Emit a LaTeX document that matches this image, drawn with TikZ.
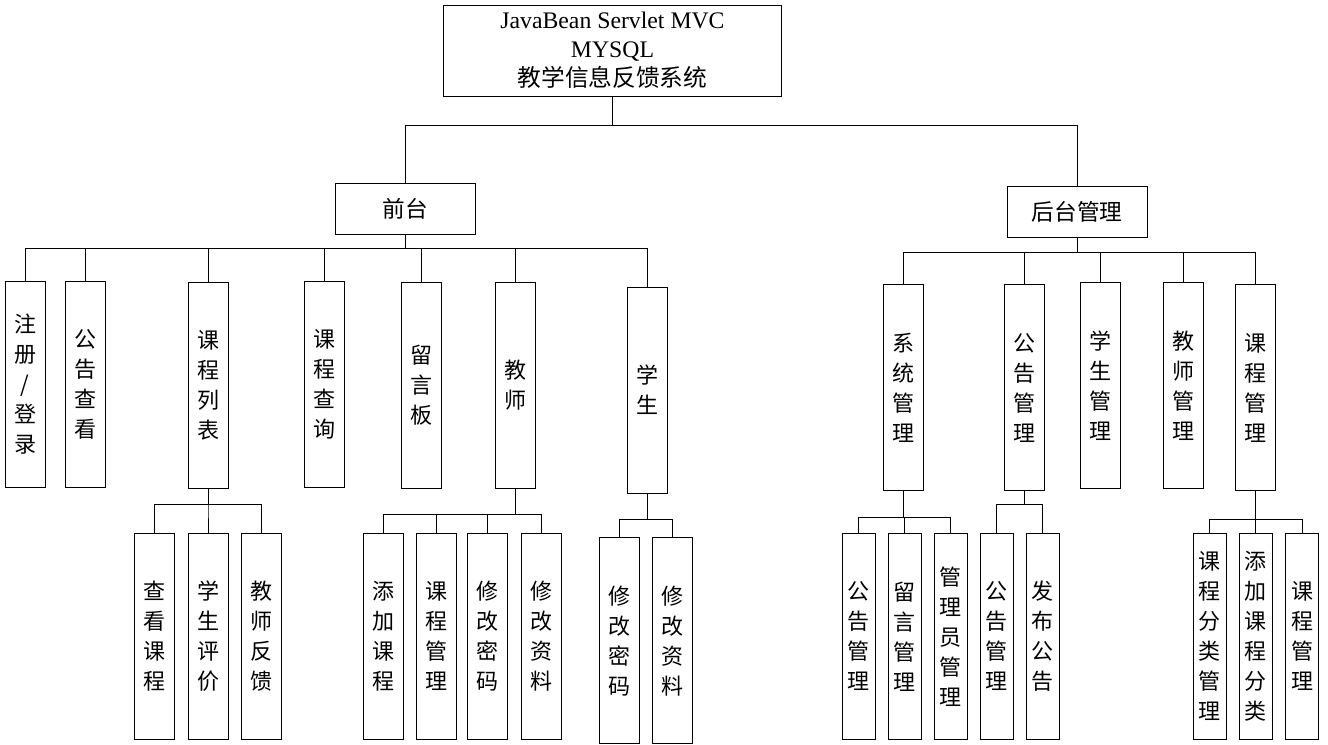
\documentclass[tikz,border=0pt]{standalone}
\usepackage{fontspec}
\setmainfont{Liberation Serif}
\newfontfamily\cjk{Noto Sans CJK SC}
\usetikzlibrary{positioning}

\begin{document}
\begin{tikzpicture}[x=0.75pt, y=-0.75pt, line width=0.7pt,
    box/.style={draw, inner sep=0pt, align=center, minimum width=30pt, minimum height=154.5pt,
      font=\cjk\fontsize{16.5}{22.5}\selectfont},
    slim/.style={box, minimum width=24.75pt},
    head/.style={draw, inner sep=0pt, align=center, minimum width=105pt, minimum height=38.25pt,
      font=\cjk\fontsize{17}{21}\selectfont}]
  \useasboundingbox (0,0) rectangle (1328,745);

  % top
  \node[draw, inner sep=0pt, align=center, minimum width=254pt, minimum height=68.25pt,
    font=\fontsize{17.8}{21.75}\selectfont] (root) at (612.5,50.5)
    {JavaBean Servlet MVC\\MYSQL\\{\cjk 教学信息反馈系统}};
  \node[head] (front) at (405,208.5) {前台};
  \node[head] (back) at (1077,211.5) {后台管理};

  % front end
  \node[box] (reg)     at (25,384)    {注\\册\\/\\登\\录};
  \node[box] (notice)  at (85,384)    {公\\告\\查\\看};
  \node[box] (clist)   at (208,385.5) {课\\程\\列\\表};
  \node[box] (cquery)  at (324,384)   {课\\程\\查\\询};
  \node[box] (board)   at (421,385.3) {留\\言\\板};
  \node[box] (teacher) at (515.5,385.5) {教\\师};
  \node[box] (student) at (647.3,390) {学\\生};

  \node[box] (cview)  at (154.7,636.3) {查\\看\\课\\程};
  \node[box] (sgrade) at (208,636.3)   {学\\生\\评\\价};
  \node[box] (tfeed)  at (261.3,636.3) {教\\师\\反\\馈};

  \node[box] (tadd)  at (383.3,636.2) {添\\加\\课\\程};
  \node[box] (tman)  at (436.7,636.2) {课\\程\\管\\理};
  \node[box] (tpwd)  at (487.7,636.2) {修\\改\\密\\码};
  \node[box] (tinfo) at (541,636.2)   {修\\改\\资\\料};

  \node[box] (spwd)  at (619.7,640.9) {修\\改\\密\\码};
  \node[box] (sinfo) at (672.9,640.9) {修\\改\\资\\料};

  % back end
  \node[box] (sys)    at (903.8,387.8)  {系\\统\\管\\理};
  \node[box] (notman) at (1024.8,387.8) {公\\告\\管\\理};
  \node[box] (stuman) at (1100.3,385.8) {学\\生\\管\\理};
  \node[box] (teaman) at (1183.8,385.8) {教\\师\\管\\理};
  \node[box] (couman) at (1255.5,387.8) {课\\程\\管\\理};

  \node[slim] (sysnot)   at (858.7,636.3) {公\\告\\管\\理};
  \node[slim] (sysmsg)   at (904.8,636.3) {留\\言\\管\\理};
  \node[slim] (sysadmin) at (950.8,636.3) {管\\理\\员\\管\\理};

  \node[slim] (notlist) at (996.8,636.3)  {公\\告\\管\\理};
  \node[slim] (notpub)  at (1042.8,636.3) {发\\布\\公\\告};

  \node[slim] (catman) at (1209.8,636.3) {课\\程\\分\\类\\管\\理};
  \node[slim] (catadd) at (1255.8,636.3) {添\\加\\课\\程\\分\\类};
  \node[slim] (cman)   at (1302.2,636.3) {课\\程\\管\\理};

  % connectors
  \coordinate (b0) at (0,125);
  \coordinate (b1) at (0,248);
  \coordinate (b2) at (0,252);
  \coordinate (b3) at (0,504);
  \coordinate (b4) at (0,514);
  \coordinate (b5) at (0,519);
  \coordinate (b6) at (0,517);
  \coordinate (b7) at (0,504);
  \coordinate (b8) at (0,519);

  \foreach \c in {front,back}
    \draw (root.south) -- (root.south |- b0) -| (\c.north);
  \foreach \c in {reg,notice,clist,cquery,board,teacher,student}
    \draw (front.south) -- (front.south |- b1) -| (\c.north);
  \foreach \c in {sys,notman,stuman,teaman,couman}
    \draw (back.south) -- (back.south |- b2) -| (\c.north);
  \foreach \c in {cview,sgrade,tfeed}
    \draw (clist.south) -- (clist.south |- b3) -| (\c.north);
  \foreach \c in {tadd,tman,tpwd,tinfo}
    \draw (teacher.south) -- (teacher.south |- b4) -| (\c.north);
  \foreach \c in {spwd,sinfo}
    \draw (student.south) -- (student.south |- b5) -| (\c.north);
  \foreach \c in {sysnot,sysmsg,sysadmin}
    \draw (sys.south) -- (sys.south |- b6) -| (\c.north);
  \foreach \c in {notlist,notpub}
    \draw (notman.south) -- (notman.south |- b7) -| (\c.north);
  \foreach \c in {catman,catadd,cman}
    \draw (couman.south) -- (couman.south |- b8) -| (\c.north);
\end{tikzpicture}
\end{document}
